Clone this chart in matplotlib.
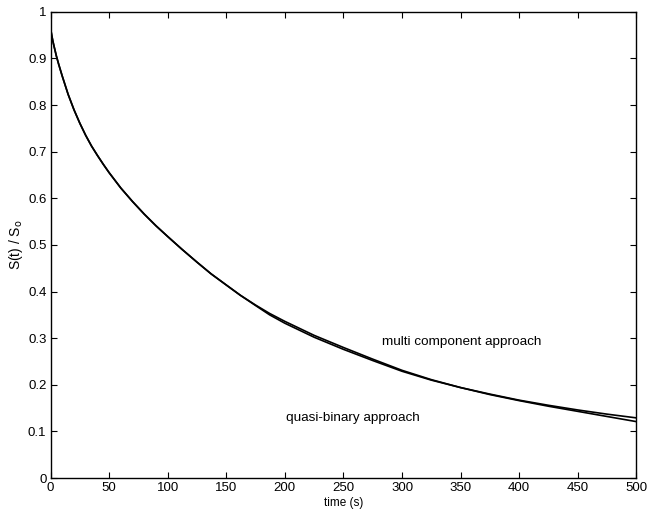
import matplotlib.pyplot as plt

# valores
t_multi = [0, 1, 2, 3, 5, 7, 10, 15, 20, 25, 30, 35, 40, 45, 50, 60, 70, 80, 90,
           100, 112, 125, 137, 150, 162, 175, 187, 200, 225, 250, 275, 300,
           325, 350, 375, 400, 425, 450, 475, 500]
s_multi = [0.965, 0.950, 0.937, 0.926, 0.905, 0.887, 0.862, 0.823, 0.790, 0.761,
           0.735, 0.712, 0.692, 0.673, 0.655, 0.622, 0.593, 0.566, 0.541,
           0.518, 0.491, 0.463, 0.438, 0.414, 0.392, 0.371, 0.353, 0.336,
           0.306, 0.280, 0.255, 0.231, 0.211, 0.194, 0.180, 0.167, 0.156,
           0.146, 0.137, 0.129]

t_quasi = t_multi
s_quasi = [0.965, 0.950, 0.937, 0.926, 0.905, 0.887, 0.862, 0.823, 0.790, 0.761,
           0.735, 0.712, 0.692, 0.673, 0.655, 0.622, 0.593, 0.566, 0.541,
           0.518, 0.491, 0.463, 0.438, 0.414, 0.392, 0.370, 0.350, 0.332,
           0.302, 0.276, 0.252, 0.229, 0.210, 0.194, 0.179, 0.166, 0.154,
           0.143, 0.132, 0.121]

x_ticks = [0, 50, 100, 150, 200, 250, 300, 350, 400, 450, 500]
y_ticks = [0, 0.1, 0.2, 0.3, 0.4, 0.5, 0.6, 0.7, 0.8, 0.9, 1]
y_tick_labels = ['0', '0.1', '0.2', '0.3', '0.4', '0.5', '0.6', '0.7', '0.8', '0.9', '1']

plt.rcParams['font.family'] = ['Liberation Sans', 'DejaVu Sans']

fig = plt.figure(figsize=(6.48, 5.16), dpi=100)
ax = fig.add_axes([0.078, 0.0736, 0.904, 0.9035])

ax.plot(t_multi, s_multi, color='black', lw=1.2)
ax.plot(t_quasi, s_quasi, color='black', lw=1.2)

ax.text(283, 0.292, 'multi component approach', fontsize=9.7, va='center')
ax.text(201, 0.129, 'quasi-binary approach', fontsize=9.7, va='center')

ax.set_xlim(0, 500)
ax.set_ylim(0, 1)
ax.set_xticks(x_ticks)
ax.set_yticks(y_ticks)
ax.set_yticklabels(y_tick_labels)
ax.tick_params(direction='in', length=4, width=0.8, top=True, right=True,
               labelsize=9.5, pad=3)
for sp in ax.spines.values():
    sp.set_linewidth(1.0)

ax.set_xlabel('time (s)', fontsize=8.5, labelpad=2)
ax.set_ylabel(r'S(t) / S$_\mathrm{o}$', fontsize=10, labelpad=2)

fig.savefig('out.png', dpi=100)
